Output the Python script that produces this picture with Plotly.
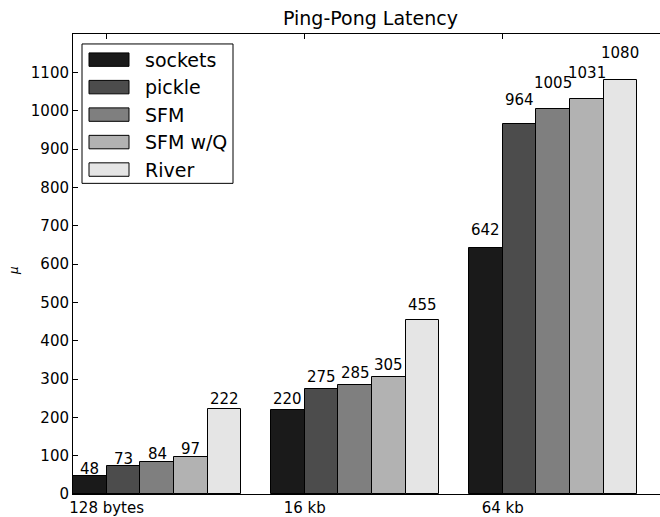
import plotly.graph_objects as go

# Message sizes and measured round-trip latencies
categories = ["128 bytes", "16 kb", "64 kb"]
series_names = ["sockets", "pickle", "SFM", "SFM w/Q", "River"]
sockets = [48, 220, 642]
pickle_ = [73, 275, 964]
sfm = [84, 285, 1005]
sfm_wq = [97, 305, 1031]
river = [222, 455, 1080]
series_values = [sockets, pickle_, sfm, sfm_wq, river]
y_ticks = list(range(0, 1200, 100))

colors = ["#1a1a1a", "#4c4c4c", "#7f7f7f", "#b2b2b2", "#e5e5e5"]
bar_w = 0.17
ind = list(range(len(categories)))
FONT = "DejaVu Sans"

fig = go.Figure()
annotations = []
for i, (name, vals) in enumerate(zip(series_names, series_values)):
    fig.add_trace(go.Bar(
        x=ind, y=vals, name=name, width=bar_w, offset=i * bar_w,
        marker=dict(color=colors[i], line=dict(color="black", width=1)),
        showlegend=False,
    ))
    for xi, v in zip(ind, vals):
        annotations.append(dict(
            x=xi + i * bar_w + bar_w / 2, y=1.05 * v, xref="x", yref="y",
            text=str(v), showarrow=False, yanchor="bottom", xanchor="center",
            font=dict(family=FONT, size=15, color="black"), borderpad=0, yshift=-4,
        ))

# Hand-built legend box with wide patches
L, T = 73, 34
PW, PH = 587, 462
def px(x):
    return (x - L) / PW
def py(y):
    return 1 - (y - T) / PH

shapes = [dict(type="rect", xref="paper", yref="paper",
               x0=px(82), x1=px(233), y0=py(184), y1=py(44),
               line=dict(color="black", width=1), fillcolor="white", layer="above")]
for i, name in enumerate(series_names):
    top = 53 + i * 27.6
    shapes.append(dict(type="rect", xref="paper", yref="paper",
                       x0=px(89), x1=px(129), y0=py(top + 13.5), y1=py(top),
                       line=dict(color="black", width=1), fillcolor=colors[i], layer="above"))
    annotations.append(dict(x=px(143), y=py(top + 6.75), xref="paper", yref="paper",
                            text=name, showarrow=False, xanchor="left", yanchor="middle",
                            font=dict(family=FONT, size=19, color="black")))

annotations.append(dict(x=px(371), y=py(18), xref="paper", yref="paper",
                        text="Ping-Pong Latency", showarrow=False,
                        xanchor="center", yanchor="middle",
                        font=dict(family=FONT, size=19, color="black")))
annotations.append(dict(x=px(14), y=py(272), xref="paper", yref="paper",
                        text="<i>μ</i>", showarrow=False, textangle=-90,
                        xanchor="center", yanchor="middle",
                        font=dict(family=FONT, size=12, color="black")))

fig.update_layout(
    width=660, height=517,
    margin=dict(l=L, r=0, t=T, b=517 - T - PH),
    paper_bgcolor="white", plot_bgcolor="white",
    bargap=0, barmode="overlay",
    annotations=annotations, shapes=shapes,
    xaxis=dict(
        range=[0, PW / 198], tickvals=[v + bar_w for v in ind], ticktext=categories,
        showgrid=False, zeroline=False, showline=True, linecolor="black", linewidth=1,
        mirror="ticks", ticks="inside", ticklen=5, tickcolor="black",
        tickfont=dict(family=FONT, size=15, color="black"),
    ),
    yaxis=dict(
        range=[0, 1200], tickvals=y_ticks,
        showgrid=False, zeroline=False, showline=True, linecolor="black", linewidth=1,
        ticks="inside", ticklen=5, tickcolor="black",
        tickfont=dict(family=FONT, size=15, color="black"),
    ),
)

fig.write_html("out.html")
